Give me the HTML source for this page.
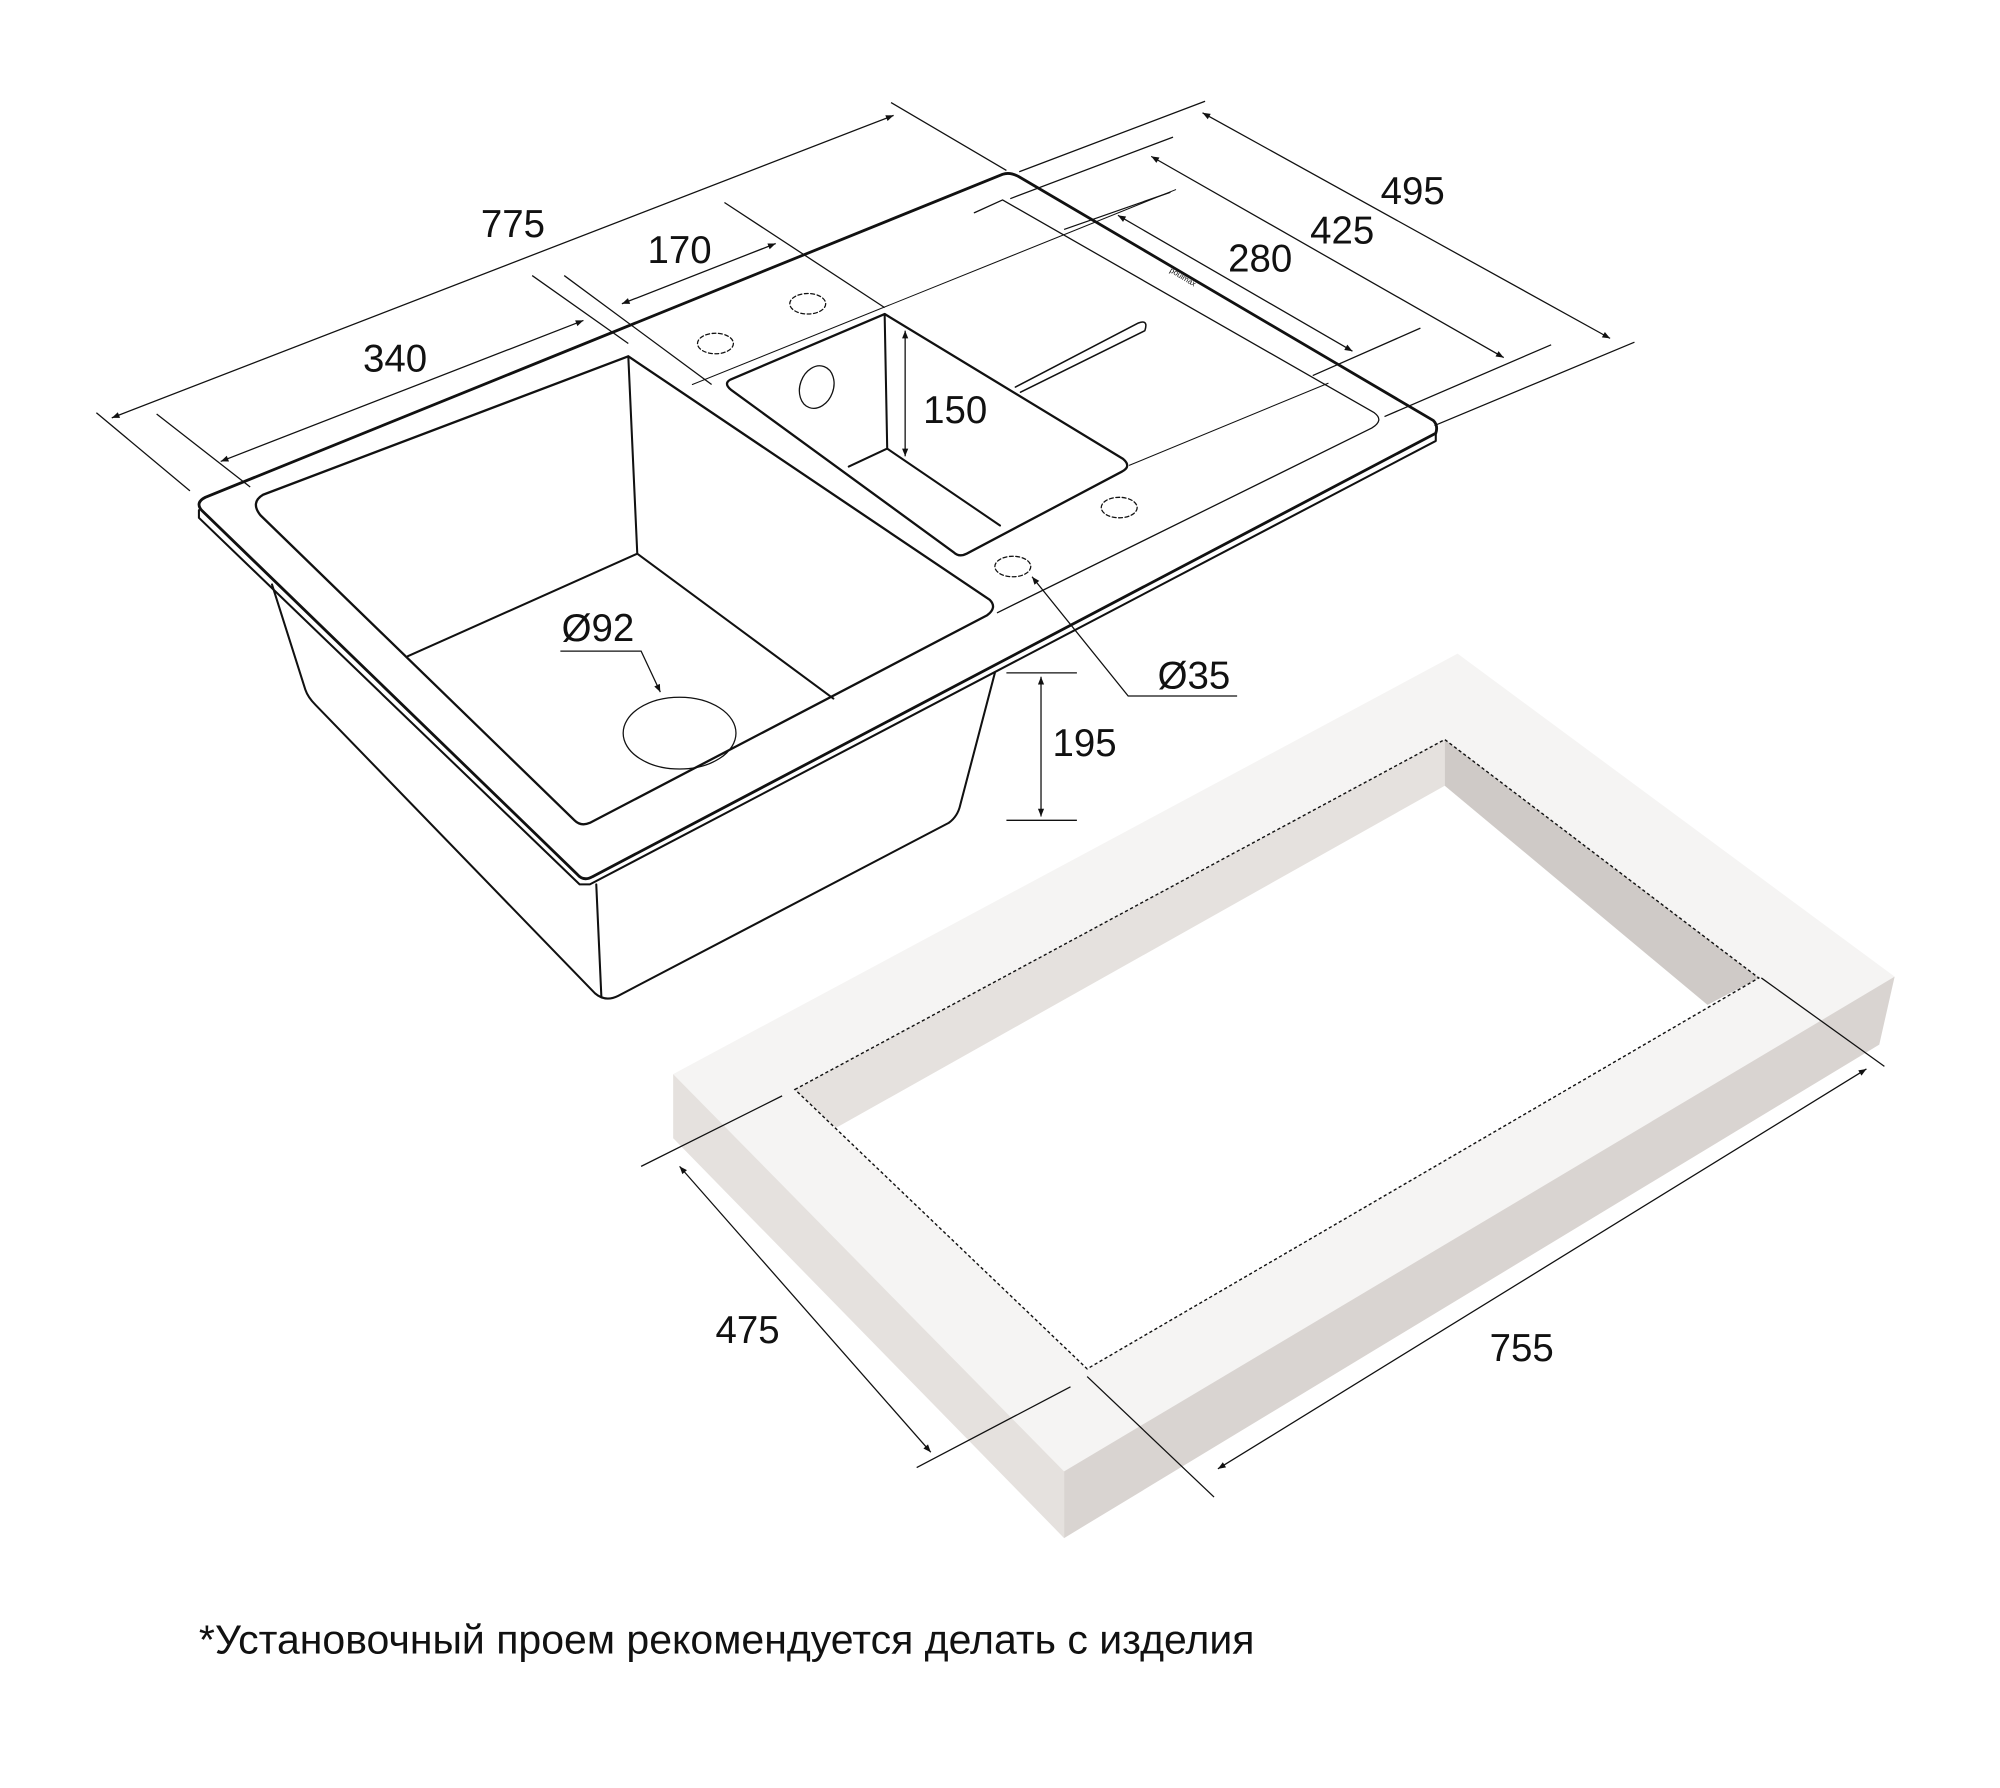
<!DOCTYPE html>
<html><head><meta charset="utf-8"><style>
html,body{margin:0;padding:0;background:#fff;}
svg{display:block;}
text{font-family:"Liberation Sans","DejaVu Sans",sans-serif;fill:#111;}
</style></head><body>
<svg width="2000" height="1788" viewBox="0 0 1560 1395" xmlns="http://www.w3.org/2000/svg">
<defs>
<marker id="a" viewBox="0 0 10 10" refX="10" refY="5" markerWidth="9" markerHeight="6" orient="auto-start-reverse" markerUnits="userSpaceOnUse"><path d="M0,1 L10,5 L0,9 z" fill="#111"/></marker>
</defs>
<g fill="none" stroke="#111" stroke-linecap="round" stroke-linejoin="round">
<path d="M160,388 L782,136 Q788,134 795,138 L1118,328 Q1122,332 1120,338 L462,684 Q455,688 450,682 L157,398 Q152,392 160,388 Z" stroke-width="2.2"/>
<path d="M155,398 L155,404 L452,690 L460,690 L1120,344 L1120,338" stroke-width="1.6"/>
<path d="M212,456 L238,538 Q240,544 246,550 L464,775 Q472,782 482,777 L740,642 Q747,637 749,628 L776,525" stroke-width="1.6"/>
<path d="M465,690 L469,778" stroke-width="1.6"/>
<path d="M205,386 L490,278 L772,468 Q778,474 770,480 L460,642 Q453,645 448,640 L203,402 Q195,392 205,386 Z" stroke-width="1.8"/>
<path d="M490,278 L497,432 L318,512 M497,432 L650,545" stroke-width="1.6"/>
<ellipse cx="530" cy="572" rx="44" ry="28" stroke-width="1"/>
<path d="M570,296 L690,245 L876,358 Q883,364 875,368 L754,432 Q748,435 744,431 L570,304 Q564,299 570,296 Z" stroke-width="1.8"/>
<path d="M690,245 L692,350 L662,364 M692,350 L780,410" stroke-width="1.6"/>
<ellipse cx="637" cy="302" rx="13" ry="17" transform="rotate(20 637 302)" stroke-width="1"/>
<path d="M760,166 L782,156 L1072,322 Q1080,328 1070,334 L778,478" stroke-width="1"/>
<path d="M540,300 L917,148" stroke-width="0.8"/>
<path d="M881,363 L1036,299" stroke-width="0.8"/>
<path d="M792,302 L888,252 Q896,249 893,258 L796,306" stroke-width="1.2"/>
<g stroke-width="1" stroke-dasharray="3,2">
<ellipse cx="558" cy="268" rx="14" ry="8"/>
<ellipse cx="630" cy="237" rx="14" ry="8"/>
<ellipse cx="790" cy="442" rx="14" ry="8"/>
<ellipse cx="873" cy="396" rx="14" ry="8"/>
</g>
</g>
<text x="912" y="212" font-size="6" transform="rotate(31 912 212)">poulmax</text>
<polygon points="525,838 1137,510 1478,762 830,1148" fill="#f5f4f3"/>
<polygon points="525,838 830,1148 830,1200 525,888" fill="#e5e1de"/>
<polygon points="830,1148 1478,762 1466,815 830,1200" fill="#d9d4d1"/>
<polygon points="620,850 1127,577 1372,763 848,1068" fill="#fff"/>
<polygon points="620,850 1127,577 1127,613 652,880" fill="#e5e1de"/>
<polygon points="1127,577 1372,763 1332,784 1127,613" fill="#cfcac7"/>
<polygon points="620,850 1127,577 1372,763 848,1068" fill="none" stroke="#111" stroke-width="1.1" stroke-dasharray="2.5,2"/>
<g stroke="#111" fill="none" stroke-width="1">
<path d="M75,322 L148,383 M695,80 L785,133"/>
<path d="M87,326 L697,90" marker-start="url(#a)" marker-end="url(#a)"/>
<path d="M122,323 L195,380 M415,215 L490,268"/>
<path d="M172,360 L455,250" marker-start="url(#a)" marker-end="url(#a)"/>
<path d="M440,215 L555,300 M565,158 L690,240"/>
<path d="M485,237 L605,190" marker-start="url(#a)" marker-end="url(#a)"/>
<path d="M795,134 L940,79 M1119,332 L1275,267"/>
<path d="M938,88 L1256,264" marker-start="url(#a)" marker-end="url(#a)"/>
<path d="M788,155 L915,107 M1080,325 L1210,269"/>
<path d="M898,122 L1173,279" marker-start="url(#a)" marker-end="url(#a)"/>
<path d="M830,179 L913,150 M1024,293 L1108,256"/>
<path d="M872,168 L1055,274" marker-start="url(#a)" marker-end="url(#a)"/>
<path d="M706,258 L706,356" marker-start="url(#a)" marker-end="url(#a)"/>
<path d="M785,525 L840,525 M785,640 L840,640"/>
<path d="M812,528 L812,637" marker-start="url(#a)" marker-end="url(#a)"/>
<path d="M965,543 L880,543 L805,450" marker-end="url(#a)"/>
<path d="M437,508 L500,508 L515,540" marker-end="url(#a)"/>
<path d="M500,910 L610,855 M715,1145 L835,1082"/>
<path d="M530,910 L726,1133" marker-start="url(#a)" marker-end="url(#a)"/>
<path d="M1374,763 L1470,832 M848,1074 L947,1168"/>
<path d="M1456,834 L950,1146" marker-start="url(#a)" marker-end="url(#a)"/>
</g>
<g font-size="30">
<text x="375" y="185">775</text>
<text x="505" y="205">170</text>
<text x="283" y="290">340</text>
<text x="720" y="330">150</text>
<text x="1077" y="159">495</text>
<text x="1022" y="190">425</text>
<text x="958" y="212">280</text>
<text x="438" y="500">Ø92</text>
<text x="903" y="537">Ø35</text>
<text x="821" y="590">195</text>
<text x="558" y="1048">475</text>
<text x="1162" y="1062">755</text>
</g>
<text x="155" y="1290" font-size="32">*Установочный проем рекомендуется делать с изделия</text>
</svg>
</body></html>
